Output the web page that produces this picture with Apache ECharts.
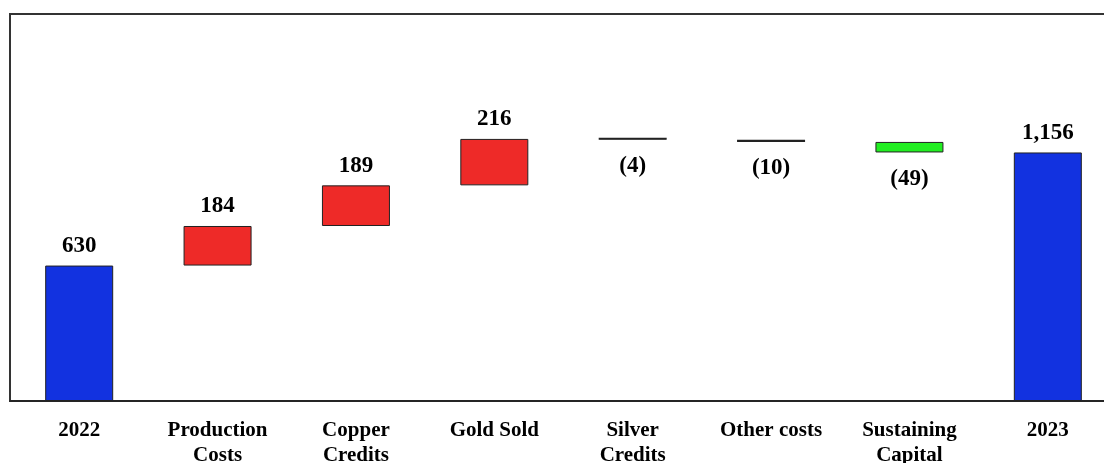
<!DOCTYPE html>
<html>
<head>
<meta charset="utf-8">
<script src="https://cdn.jsdelivr.net/npm/echarts@6/dist/echarts.min.js"></script>
<style>
  html, body { margin: 0; padding: 0; background: #fff; }
  #main { width: 1104px; height: 463px; }
</style>
</head>
<body>
<div id="main"></div>
<script>
// categories and the change for each step (first and last are totals)
var categories = ['2022', 'Production\nCosts', 'Copper\nCredits', 'Gold Sold', 'Silver\nCredits', 'Other costs', 'Sustaining\nCapital', '2023'];
var changes = [630, 184, 189, 216, -4, -10, -49, 1156];
var kinds = ['total', 'up', 'up', 'up', 'down', 'down', 'down', 'total'];

var BLUE = '#1232e0', RED = '#ee2a28', GREEN = '#22ee22';

// build invisible base + visible bar
var base = [], shown = [], running = 0;
for (var i = 0; i < changes.length; i++) {
  var v = changes[i], k = kinds[i];
  var col, lbl, bw = 1;
  if (k === 'total') {
    base.push(0);
    running = v;
    col = BLUE;
    lbl = { position: 'top', formatter: v.toLocaleString('en-US') };
  } else if (k === 'up') {
    base.push(running);
    running += v;
    col = RED;
    lbl = { position: 'top', formatter: String(v) };
  } else {
    running += v;
    base.push(running);
    // tiny decreases show up as black lines
    if (Math.abs(v) < 20) { col = '#000'; bw = 1.2; } else { col = GREEN; }
    lbl = { position: 'bottom', distance: 15, formatter: '(' + Math.abs(v) + ')' };
  }
  shown.push({
    value: Math.abs(v),
    itemStyle: { color: col, borderWidth: bw },
    label: lbl
  });
}

var chart = echarts.init(document.getElementById('main'));
chart.setOption({
  animation: false,
  grid: {
    left: 10, right: -13, top: 14, bottom: 62,
    outerBoundsMode: 'none',
    containLabel: false,
    show: true, borderColor: '#333', borderWidth: 2
  },
  xAxis: {
    type: 'category',
    data: categories,
    axisLine: { lineStyle: { color: '#222', width: 1.5 } },
    axisTick: { show: false },
    axisLabel: {
      interval: 0,
      margin: 17,
      color: '#000',
      fontFamily: 'Liberation Serif',
      fontWeight: 'bold',
      fontSize: 21,
      lineHeight: 25
    }
  },
  yAxis: {
    type: 'value',
    min: 0, max: 1800,
    show: false,
    splitLine: { show: false }
  },
  series: [{
    type: 'bar',
    stack: 'w',
    data: base,
    barWidth: 68,
    itemStyle: { color: 'transparent' },
    silent: true
  }, {
    type: 'bar',
    stack: 'w',
    data: shown,
    barWidth: 68,
    barMinHeight: 2,
    itemStyle: { borderColor: '#222', borderWidth: 1 },
    label: {
      show: true,
      distance: 8,
      color: '#000',
      fontFamily: 'Liberation Serif',
      fontWeight: 'bold',
      fontSize: 23
    }
  }]
});
</script>
</body>
</html>
